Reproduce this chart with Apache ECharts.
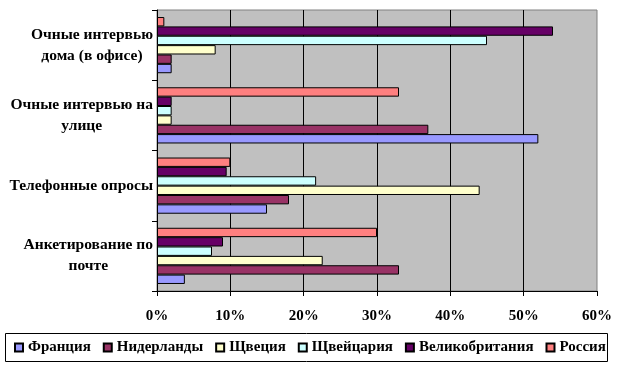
<!DOCTYPE html>
<html><head><meta charset="utf-8">
<script src="https://cdn.jsdelivr.net/npm/echarts@6/dist/echarts.min.js"></script>
<style>html,body{margin:0;padding:0;background:#fff}#c{width:619px;height:367px}</style>
</head><body><div id="c"></div>
<script>
const categories = ['Анкетирование по\nпочте', 'Телефонные опросы', 'Очные интервью на\nулице', 'Очные интервью\nдома (в офисе)'];
const seriesNames = ['Франция', 'Нидерланды', 'Щвеция', 'Щвейцария', 'Великобритания', 'Россия'];
const france = [3.8, 15, 52, 2];
const netherlands = [33, 18, 37, 2];
const sweden = [22.6, 44, 2, 8];
const switzerland = [7.5, 21.7, 2, 45];
const britain = [9, 9.5, 2, 54];
const russia = [30, 10, 33, 1];
const xTicks = [0, 10, 20, 30, 40, 50, 60];

const values = [france, netherlands, sweden, switzerland, britain, russia];
const colors = ['#9999FF', '#993366', '#FFFFCC', '#CCFFFF', '#660066', '#FF8080'];
const FONT = '"Liberation Serif","Times New Roman",serif';

const order = [5, 4, 3, 2, 1, 0];
const chart = echarts.init(document.getElementById('c'), null, {renderer: 'canvas'});
chart.setOption({
  animation: false,
  backgroundColor: '#fff',
  grid: {left: 157, right: 22, top: 10, bottom: 76, show: true, backgroundColor: '#C0C0C0', borderColor: '#808080', borderWidth: 1},
  xAxis: {
    type: 'value', min: xTicks[0], max: xTicks[xTicks.length - 1], interval: 10,
    axisLine: {show: true, lineStyle: {color: '#000', width: 1}},
    axisTick: {show: true, length: 5, lineStyle: {color: '#000'}},
    splitLine: {show: true, showMinLine: false, showMaxLine: false, lineStyle: {color: '#000', width: 1}},
    axisLabel: {formatter: '{value}%', color: '#000', fontFamily: FONT, fontWeight: 'bold', fontSize: 15, margin: 18}
  },
  yAxis: {
    type: 'category', data: categories,
    axisLine: {show: true, lineStyle: {color: '#000', width: 1}},
    axisTick: {show: true, length: 5, inside: false, lineStyle: {color: '#000'}},
    axisLabel: {
      color: '#000', margin: 4, align: 'right',
      formatter: v => v.split('\n').map(l => '{c|' + l + '}').join('\n'),
      rich: {c: {align: 'center', fontFamily: FONT, fontWeight: 'bold', fontSize: 15.5, lineHeight: 21, color: '#000'}}
    }
  },
  legend: {
    data: seriesNames, left: 9, top: 334, padding: [6, 5, 6, 5],
    itemWidth: 8, itemHeight: 8, itemGap: 12, icon: 'rect',
    textStyle: {fontFamily: FONT, fontWeight: 'bold', fontSize: 15, color: '#000'}
  },
  graphic: [{type: 'rect', shape: {x: 5.5, y: 333.5, width: 602, height: 28}, style: {fill: 'none', stroke: '#000', lineWidth: 1}, silent: true}],
  series: order.map(i => ({
    name: seriesNames[i], type: 'bar', data: values[i], barGap: '0%', barCategoryGap: '20%',
    itemStyle: {color: colors[i], borderColor: '#000', borderWidth: 1}
  }))
});
</script></body></html>
